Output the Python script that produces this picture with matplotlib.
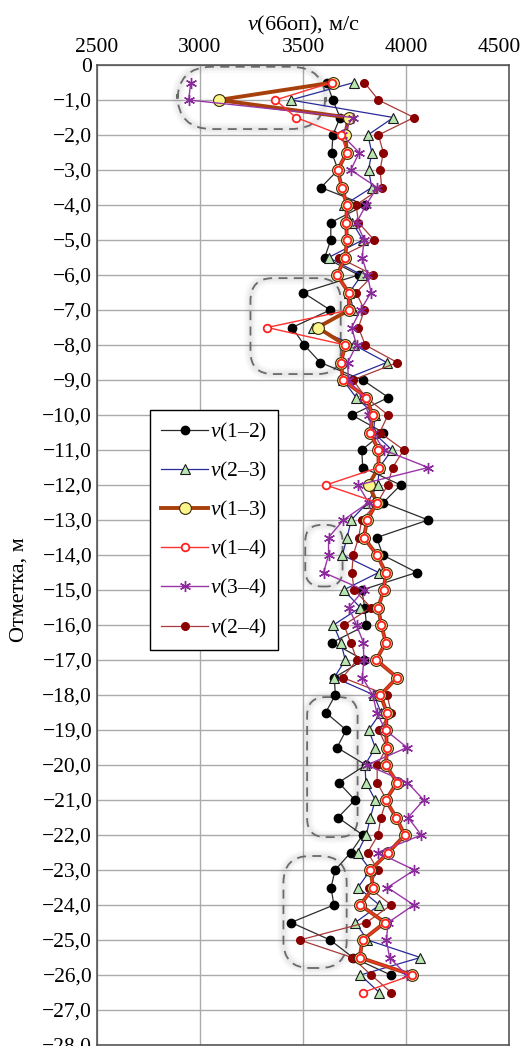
#!/usr/bin/env python3
"""
Velocity vs. depth profile for pairs of boreholes (v(66оп))
"""

import numpy as np
import matplotlib
matplotlib.use("Agg")
import matplotlib.pyplot as plt
from matplotlib.patches import FancyBboxPatch

plt.rcParams['font.family'] = ['Liberation Serif', 'DejaVu Serif']
plt.rcParams['mathtext.fontset'] = 'custom'
plt.rcParams['mathtext.it'] = 'Liberation Serif:italic'
plt.rcParams['mathtext.rm'] = 'Liberation Serif'

# depth marks, m
depth = [-0.5, -1.0, -1.5, -2.0, -2.5, -3.0, -3.5, -4.0, -4.5, -5.0,
         -5.5, -6.0, -6.5, -7.0, -7.5, -8.0, -8.5, -9.0, -9.5, -10.0,
         -10.5, -11.0, -11.5, -12.0, -12.5, -13.0, -13.5, -14.0, -14.5, -15.0,
         -15.5, -16.0, -16.5, -17.0, -17.5, -18.0, -18.5, -19.0, -19.5, -20.0,
         -20.5, -21.0, -21.5, -22.0, -22.5, -23.0, -23.5, -24.0, -24.5, -25.0,
         -25.5, -26.0, -26.5]

nan = np.nan

v12 = [3615, 3645, 3680, 3645, 3640, 3670, 3587, 3802, 3635, 3635,
       3605, 3770, 3500, 3632, 3447, 3506, 3584, 3790, 3915, 3737,
       3890, 3785, 3790, 3974, 3890, 4108, 3858, 3887, 4052, 3785,
       3800, 3808, 3641, 3795, 3652, 3657, 3610, 3710, 3665, 3805,
       3673, 3752, 3670, 3790, 3732, 3656, 3636, 3650, 3442, 3632,
       3742, 3926, nan]

v23 = [3748, 3440, 3939, 3815, 3834, 3818, 3834, 3700, 3740, 3790,
       3624, 3785, 3725, 3745, 3548, 3748, 3906, 3694, 3758, 3850,
       3842, 3932, 3870, 3863, 3814, 3734, 3714, 3691, 3867, 3697,
       3778, 3648, 3684, 3705, 3652, 3845, 3878, 3819, 3851, 3801,
       3805, 3851, 3827, 3807, 3765, 3827, 3767, 3871, 3754, 3813,
       4070, 3779, 3870]

v13 = [3645, 3090, 3721, 3705, 3713, 3668, 3689, 3713, 3710, 3713,
       3705, 3665, 3721, 3724, 3571, 3705, 3684, 3694, 3808, 3838,
       3826, 3866, 3867, 3818, 3859, 3812, 3795, 3859, 3902, 3892,
       3865, 3880, 3902, 3855, 3957, 3876, 3907, 3902, 3908, 3902,
       3957, 3902, 3952, 3994, 3915, 3827, 3841, 3778, 3898, 3789,
       3775, 4031, nan]

v14 = [3640, 3366, 3466, 3685, 3713, 3668, 3689, 3713, 3710, 3713,
       3705, 3665, 3721, 3724, 3326, 3705, 3684, 3694, 3808, 3838,
       3826, 3866, 3867, 3611, 3859, 3812, 3795, 3859, 3902, 3892,
       3865, 3880, 3902, 3855, 3957, 3876, 3907, 3902, 3908, 3902,
       3957, 3902, 3952, 3994, 3915, 3827, 3841, 3778, 3898, 3789,
       3775, 4031, 3790]

v34 = [2955, 2945, 3742, 3689, 3773, 3732, 3860, 3806, 3760, 3797,
       3787, 3813, 3830, 3780, 3736, 3760, 3717, 3720, 3794, 3818,
       3840, 3892, 4108, 3768, 3818, 3696, 3624, 3624, 3600, 3795,
       3722, 3760, 3793, 3795, 3788, 3839, 3858, 3900, 4005, 3810,
       4007, 4086, 4010, 4074, 3863, 4041, 3910, 4038, 3913, 3905,
       3920, 4003, nan]

v24 = [3798, 3866, 4039, 3866, 3890, 3874, 3882, 3758, 3769, 3845,
       3673, 3842, 3758, 3798, 3769, 3802, 3958, 3742, 3806, 3913,
       3872, 3989, 3935, 3911, 3862, 3785, 3770, 3744, 3737, 3748,
       3830, 3699, 3731, 3762, 3692, 3908, 3928, 3867, 3907, 3860,
       3860, 3905, 3878, 3864, 3814, 3863, 3818, 3928, 3808, 3484,
       3738, 3831, 3928]

x_ticks = [2500, 3000, 3500, 4000, 4500]

# dashed callout boxes: (x0, y0, width, height) in data units
boxes = [(2890, -1.83, 720, 1.78),
         (3245, -8.83, 438, 2.74),
         (3511, -14.90, 181, 1.76),
         (3520, -22.06, 245, 4.00),
         (3405, -25.80, 307, 3.20)]
box_round = [170, 110, 80, 90, 130]


def main():
    W, H = 522, 1046
    fig = plt.figure(figsize=(W / 100, H / 100), dpi=100)
    ax = fig.add_axes([97 / W, 1 / H, 412 / W, 980 / H])

    ax.set_xlim(2500, 4500)
    ax.set_ylim(-28, 0)

    # px per data unit, to keep the box corners round
    aspect = (28 / 980) / (2000 / 412)

    for (x0, y0, w, h), r in zip(boxes, box_round):
        for lw, a in [(9, 0.04), (6, 0.05), (3.5, 0.06)]:
            ax.add_patch(FancyBboxPatch((x0, y0), w, h,
                                        boxstyle=f"round,pad=0,rounding_size={r}",
                                        mutation_aspect=aspect, fill=False,
                                        edgecolor='#777777', linewidth=lw,
                                        alpha=a, zorder=1))
        ax.add_patch(FancyBboxPatch((x0, y0), w, h,
                                    boxstyle=f"round,pad=0,rounding_size={r}",
                                    mutation_aspect=aspect, fill=False,
                                    edgecolor='#6a6a6a', linewidth=1.3,
                                    linestyle=(0, (5, 3.5)), zorder=2))

    ax.plot(v12, depth, color='#2b2b2b', lw=0.9, marker='o', ms=6,
            mfc='black', mec='black', label=r'$\mathit{v}$(1–2)', zorder=4)
    ax.plot(v23, depth, color='#2a2a9a', lw=0.9, marker='^', ms=7.5,
            mfc='#b8e6b0', mec='#1a1a1a', mew=0.8,
            label=r'$\mathit{v}$(2–3)', zorder=5)
    ax.plot(v13, depth, color='#a8400c', lw=2.8, marker='o', ms=8.5,
            mfc='#fbf58a', mec='#3a2a10', mew=0.8,
            label=r'$\mathit{v}$(1–3)', zorder=6)
    ax.plot(v14, depth, color='#ff3030', lw=1.0, marker='o', ms=5.5,
            mfc='white', mec='#ff2020', mew=1.3,
            label=r'$\mathit{v}$(1–4)', zorder=7)
    ax.plot(v34, depth, color='#9a35a8', lw=1.0, marker=(6, 2, 0), ms=8,
            mec='#8a2a9a', mew=1.0, label=r'$\mathit{v}$(3–4)', zorder=6)
    ax.plot(v24, depth, color='#a83a3a', lw=0.9, marker='o', ms=5.5,
            mfc='#8b0000', mec='#8b0000', label=r'$\mathit{v}$(2–4)', zorder=5)

    # axes, grid and ticks
    ax.xaxis.tick_top()
    ax.xaxis.set_label_position('top')
    ax.set_xticks(x_ticks)
    # last label is pulled inside the picture, as in the source figure
    ax.set_xticklabels([str(t) for t in x_ticks[:-1]] + [''])
    yt = list(range(0, -29, -1))
    ax.set_yticks(yt)
    ax.set_yticklabels(['0'] + [f'−{abs(t)},0' for t in yt[1:]])
    ax.tick_params(axis='both', length=0, labelsize=15.5)
    ax.tick_params(axis='x', pad=6)
    ax.tick_params(axis='y', pad=3.5)
    trans, va, ha = ax.get_xaxis_text2_transform(6)
    ax.text(4455, 1, str(x_ticks[-1]), transform=trans, va=va, ha='center',
            fontsize=15.5)

    ax.grid(True, color='#ababab', lw=1.0)
    ax.set_axisbelow(True)
    for s in ax.spines.values():
        s.set_color('#4a4a4a')
        s.set_linewidth(1.1)

    ax.set_xlabel(r'$\mathit{v}$(66оп), м/с', fontsize=16, labelpad=5)
    ax.set_ylabel('Отметка, м', fontsize=16)
    ax.yaxis.set_label_coords(-0.165, 0.465)

    leg = ax.legend(loc='upper left', bbox_to_anchor=(0.129, 0.648),
                    fontsize=15.5, frameon=True, fancybox=False,
                    edgecolor='black', framealpha=1, borderpad=0.5,
                    labelspacing=0.75, handlelength=2.2, handletextpad=0.1,
                    borderaxespad=0)
    leg.get_frame().set_linewidth(1.0)

    fig.savefig('out.png', dpi=100)
    plt.close(fig)


if __name__ == '__main__':
    main()
